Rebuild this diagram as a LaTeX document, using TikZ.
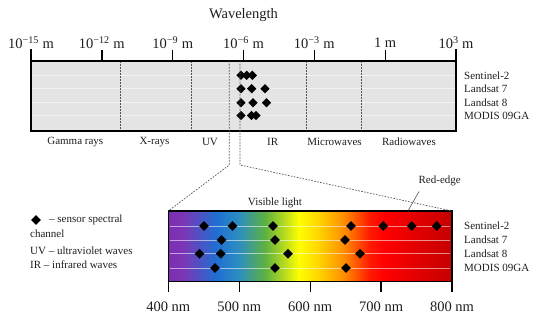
\documentclass[tikz,border=0pt]{standalone}
\usepackage{fontspec}
\setmainfont{Liberation Serif}
\usetikzlibrary{shapes.geometric}
\definecolor{topgray}{HTML}{E4E4E4}
\definecolor{txt}{HTML}{1E1E1E}
\definecolor{zoomgray}{HTML}{555555}
\definecolor{spA}{HTML}{7A2FB0}
\definecolor{spB}{HTML}{7D35B5}
\definecolor{spC}{HTML}{1F6FD2}
\definecolor{spD}{HTML}{2D8FC0}
\definecolor{spE}{HTML}{5CB040}
\definecolor{spF}{HTML}{B8DC20}
\definecolor{spG}{HTML}{FFFF00}
\definecolor{spH}{HTML}{FFD500}
\definecolor{spI}{HTML}{FF8C00}
\definecolor{spJ}{HTML}{FF1A00}
\definecolor{spK}{HTML}{FF0000}
\definecolor{spL}{HTML}{C40000}
\pgfdeclarehorizontalshading{spectrum}{100bp}{color(0bp)=(spA); color(25bp)=(spA); color(27.5bp)=(spB); color(33.5bp)=(spC); color(37.5bp)=(spD); color(42bp)=(spE); color(45.5bp)=(spF); color(48bp)=(spG); color(51.5bp)=(spH); color(56bp)=(spI); color(60.5bp)=(spJ); color(63bp)=(spK); color(75bp)=(spL); color(100bp)=(spL)}
\begin{document}
\begin{tikzpicture}[x=1pt,y=-1pt,
  frame/.style={line width=1.4pt,draw=black},
  tickline/.style={line width=1.4pt,black},
  divider/.style={zoomgray,line width=0.7pt,dash pattern=on 1.6pt off 1.4pt},
  rowline/.style={white,opacity=0.55,line width=0.6pt},
  sdiam/.style={diamond,fill=black,inner sep=0pt,minimum size=#1},
  sdiam/.default=10pt,
  ticklbl/.style={text=txt,font=\fontsize{14.5}{16}\selectfont,inner sep=0pt},
  lbl/.style={text=txt,font=\fontsize{11}{12}\selectfont,inner sep=0pt},
  senslbl/.style={lbl,anchor=west}
]
\useasboundingbox (0,0) rectangle (550,323);

% ---------- top box (electromagnetic spectrum) ----------
\node[fill=topgray,minimum width=425pt,minimum height=70pt,inner sep=0pt,outer sep=0pt] (emr) at (243.5,96) {};
\foreach \yy in {75.3,88.7,102.7,115.5}
  \draw[rowline] (32,\yy) -- (455,\yy);
\foreach \xx in {120.7,191,306.7,361.7}
  \draw[divider] (\xx,61) -- (\xx,131);

% sensor channel diamonds (top)
\foreach \xx [count=\i] in {241,246.7,252.3}
  \node[sdiam=9.5pt] (ta\i) at (\xx,75.3) {};
\foreach \xx [count=\i] in {241,251.7,265}
  \node[sdiam=9.5pt] (tb\i) at (\xx,88.7) {};
\foreach \xx [count=\i] in {241,253,266.5}
  \node[sdiam=9.5pt] (tc\i) at (\xx,102.7) {};
\foreach \xx [count=\i] in {241,251.5,256}
  \node[sdiam=9.5pt] (td\i) at (\xx,115.5) {};

\draw[frame] (31,49) -- (31,131) -- (456,131) -- (456,49);
\draw[frame] (31,61) -- (456,61);
\foreach \xx in {101.8,172.7,243.5,314.3,385.2}
  \draw[tickline] (\xx,50) -- (\xx,61);

\node[ticklbl] (t1) at (31,43) {10\textsuperscript{−15} m};
\node[ticklbl] (t2) at (101.8,43) {10\textsuperscript{−12} m};
\node[ticklbl] (t3) at (172.7,43) {10\textsuperscript{−9} m};
\node[ticklbl] (t4) at (243.5,43) {10\textsuperscript{−6} m};
\node[ticklbl] (t5) at (314.3,43) {10\textsuperscript{−3} m};
\node[ticklbl] (t6) at (385.2,43) {1 m};
\node[ticklbl] (t7) at (456,43) {10\textsuperscript{3} m};
\node[ticklbl] (wl) at (243.5,15) {Wavelength};

\node[lbl] (gam) at (75.3,141.7) {Gamma rays};
\node[lbl] (xr) at (154.5,141.7) {X-rays};
\node[lbl] (uv) at (210,141.7) {UV};
\node[lbl] (ir) at (272.7,141.7) {IR};
\node[lbl] (mw) at (334.5,141.7) {Microwaves};
\node[lbl] (rw) at (409,141.7) {Radiowaves};

\node[senslbl] (s1) at (464,75.3) {Sentinel-2};
\node[senslbl] (s2) at (464,88.9) {Landsat 7};
\node[senslbl] (s3) at (464,102.5) {Landsat 8};
\node[senslbl] (s4) at (464,116.3) {MODIS 09GA};

% ---------- bottom box (visible light) ----------
\node[shading=spectrum,minimum width=283.7pt,minimum height=70.7pt,inner sep=0pt,outer sep=0pt] (vis) at (310.15,246.35) {};
\foreach \yy in {226,240,253.7,268}
  \draw[rowline] (170,\yy) -- (450,\yy);

\foreach \xx [count=\i] in {204,232.5,273,351,383.3,411.7,436.7}
  \node[sdiam] (ba\i) at (\xx,226) {};
\foreach \xx [count=\i] in {221.5,275,345}
  \node[sdiam] (bb\i) at (\xx,240) {};
\foreach \xx [count=\i] in {199.5,220.7,288,360}
  \node[sdiam] (bc\i) at (\xx,253.7) {};
\foreach \xx [count=\i] in {215,275,346}
  \node[sdiam] (bd\i) at (\xx,268) {};

\draw[frame] (168.3,292) -- (168.3,211) -- (452,211) -- (452,292);
\draw[frame] (168.3,281.7) -- (452,281.7);
\foreach \xx in {239.3,310.2,381.1}
  \draw[tickline] (\xx,281.7) -- (\xx,292);

\node[ticklbl] (n4) at (168.3,306.7) {400 nm};
\node[ticklbl] (n5) at (239.3,306.7) {500 nm};
\node[ticklbl] (n6) at (310.2,306.7) {600 nm};
\node[ticklbl] (n7) at (381.1,306.7) {700 nm};
\node[ticklbl] (n8) at (452,306.7) {800 nm};

\node[senslbl] (v1) at (464,226.2) {Sentinel-2};
\node[senslbl] (v2) at (464,240) {Landsat 7};
\node[senslbl] (v3) at (464,253.8) {Landsat 8};
\node[senslbl] (v4) at (464,267.8) {MODIS 09GA};

\node[lbl] (vl) at (275,203.3) {Visible light};
\node[lbl] (re) at (439.7,180.7) {Red-edge};
\coordinate (reTip) at (408.3,210.3);
\draw[zoomgray,line width=0.6pt] (419,191.5) -- (reTip);

% ---------- zoom lines ----------
\coordinate (zl) at (229.3,165);
\coordinate (zr) at (240,165);
\draw[divider] (229.3,61) -- (zl) -- (vis.north west);
\draw[divider] (240,61) -- (zr) -- (vis.north east);

% ---------- legend ----------
\node[sdiam=10pt] (lgd) at (36,220) {};
\node[lbl,anchor=west] (lg1) at (49,220) {– sensor spectral};
\node[lbl,anchor=west] (lg2) at (30,233.5) {channel};
\node[lbl,anchor=west] (lg3) at (30,250.7) {UV – ultraviolet waves};
\node[lbl,anchor=west] (lg4) at (30,264.3) {IR – infrared waves};
\end{tikzpicture}
\end{document}
